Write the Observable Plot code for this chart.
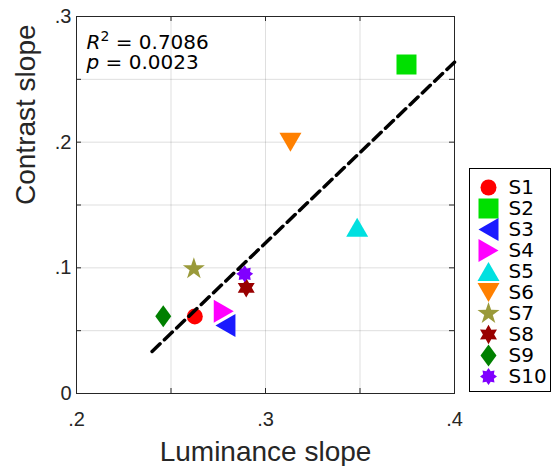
<!DOCTYPE html>
<html>
<head>
<meta charset="utf-8">
<script src="https://cdn.jsdelivr.net/npm/d3@7"></script>
<script src="https://cdn.jsdelivr.net/npm/@observablehq/plot@0.6"></script>
<style>
  html, body { margin: 0; padding: 0; background: #fff; }
  #wrap { position: relative; width: 551px; height: 466px; }
  #legend { position: absolute; left: 469px; top: 168px; width: 80px; height: 222px; border: 1px solid #000; background: #fff; }
  svg { display: block; }
</style>
</head>
<body>
<div id="wrap"><div id="main"></div><div id="legend"></div></div>
<script>
// ---------- data ----------
const subjects = ["S1", "S2", "S3", "S4", "S5", "S6", "S7", "S8", "S9", "S10"];
const luminanceSlope = [0.2626, 0.3746, 0.2788, 0.2779, 0.3485, 0.3132, 0.2621, 0.2898, 0.2459, 0.2890];
const contrastSlope  = [0.0613, 0.2618, 0.0541, 0.0655, 0.1323, 0.2000, 0.0992, 0.0841, 0.0615, 0.0952];
const markerShapes = ["circle", "square", "triangle-left", "triangle-right", "triangle-up", "triangle-down", "pentagram", "hexagram", "diamond", "asterisk"];
const markerColors = ["#ff0000", "#00e000", "#1a1aff", "#ff00ff", "#00e0e0", "#ff8000", "#9a9a3a", "#990000", "#008000", "#8000ff"];
const xTickLabels = [0.2, 0.3, 0.4];
const yTickLabels = [0, 0.1, 0.2, 0.3];
const xGridTicks = [0.2, 0.25, 0.3, 0.35, 0.4];
const yGridTicks = [0, 0.05, 0.1, 0.15, 0.2, 0.25, 0.3];
const fitRange = [0.24, 0.4];
const rSquared = "0.7086";
const pValue = "0.0023";
const xLabel = "Luminance slope";
const yLabel = "Contrast slope";

// ---------- marker shapes ----------
function scaleOf(size) { return Math.sqrt(size / Math.PI) / 10; }
function polygon(pts) {
  return { draw(ctx, size) { const s = scaleOf(size);
    pts.forEach(([x, y], i) => i ? ctx.lineTo(x * s, y * s) : ctx.moveTo(x * s, y * s)); ctx.closePath(); } };
}
function starPoly(n, ro, ri) {
  const pts = [];
  for (let i = 0; i < 2 * n; i++) {
    const a = -Math.PI / 2 + i * Math.PI / n, r = i % 2 ? ri : ro;
    pts.push([r * Math.cos(a), r * Math.sin(a)]);
  }
  return polygon(pts);
}
const symbols = {
  "circle": { draw(ctx, size) { const s = scaleOf(size); ctx.moveTo(8 * s, 0); ctx.arc(0, 0, 8 * s, 0, 2 * Math.PI); } },
  "square": polygon([[-10, -10], [10, -10], [10, 10], [-10, 10]]),
  "triangle-left": polygon([[-10, 0], [10, -11.5], [10, 11.5]]),
  "triangle-right": polygon([[10, 0], [-10, -11.5], [-10, 11.5]]),
  "triangle-up": polygon([[0, -9.5], [11, 9.5], [-11, 9.5]]),
  "triangle-down": polygon([[0, 9.5], [11, -9.5], [-11, -9.5]]),
  "pentagram": starPoly(5, 11.6, 4.5),
  "hexagram": starPoly(6, 9.8, 5.6),
  "diamond": polygon([[0, -11], [8, 0], [0, 11], [-8, 0]]),
  "asterisk": starPoly(8, 8.5, 5.8)
};

// ---------- regression ----------
const mx = d3.mean(luminanceSlope), my = d3.mean(contrastSlope);
const sxy = d3.sum(luminanceSlope, (x, i) => (x - mx) * (contrastSlope[i] - my));
const sxx = d3.sum(luminanceSlope, x => (x - mx) ** 2);
const slope = sxy / sxx, intercept = my - slope * mx;
const fitLine = fitRange.map(x => ({ x, y: intercept + slope * x }));

const points = subjects.map((s, i) => ({ s, x: luminanceSlope[i], y: contrastSlope[i], shape: markerShapes[i], color: markerColors[i] }));
const fmt = d => d === 0 ? "0" : String(d).replace(/^0/, "");
const ink = "#262626";

const plotH = 466 - 16 - 73, plotW = 551 - 76 - 97;
const statR = "R2 = " + rSquared, statP = "p = " + pValue;

const chart = Plot.plot({
  width: 551, height: 466,
  marginLeft: 76, marginRight: 97, marginTop: 16, marginBottom: 73,
  x: { domain: [0.2, 0.4] },
  y: { domain: [0, 0.3] },
  style: { fontFamily: "'Liberation Sans', Arial, sans-serif", color: ink, background: "white", overflow: "visible" },
  marks: [
    Plot.gridX(xGridTicks, { stroke: ink, strokeOpacity: 0.15, strokeWidth: 1 }),
    Plot.gridY(yGridTicks, { stroke: ink, strokeOpacity: 0.15, strokeWidth: 1 }),
    Plot.tickX(xGridTicks, { x: d => d, insetTop: plotH - 5, stroke: ink }),
    Plot.tickX(xGridTicks, { x: d => d, insetBottom: plotH - 5, stroke: ink }),
    Plot.tickY(yGridTicks, { y: d => d, insetRight: plotW - 5, stroke: ink }),
    Plot.tickY(yGridTicks, { y: d => d, insetLeft: plotW - 5, stroke: ink }),
    Plot.frame({ stroke: ink, strokeWidth: 1 }),
    Plot.axisX({ ticks: xTickLabels, tickSize: 0, tickPadding: 18, tickFormat: fmt, fontSize: 20, label: null }),
    Plot.axisY({ ticks: yTickLabels, tickSize: 0, tickPadding: 5, tickFormat: fmt, fontSize: 20, label: null }),
    Plot.text([xLabel], { text: d => d, frameAnchor: "bottom", lineAnchor: "bottom", dy: 67, fontSize: 28, fill: ink }),
    Plot.text([yLabel], { text: d => d, frameAnchor: "left", rotate: -90, lineAnchor: "bottom", dx: -41.5, fontSize: 28, fill: ink }),
    ...points.map(p => Plot.dot([p], { x: "x", y: "y", symbol: symbols[p.shape], fill: p.color, r: 10, stroke: "none" })),
    Plot.line(fitLine, { x: "x", y: "y", stroke: "black", strokeWidth: 3.5, strokeDasharray: "11,6" }),
    Plot.text([statR], { text: d => d, frameAnchor: "top-left", lineAnchor: "bottom", dx: 10, dy: 32, fontSize: 20, fontFamily: "DejaVu Sans", fill: "black", textAnchor: "start" }),
    Plot.text([statP], { text: d => d, frameAnchor: "top-left", lineAnchor: "bottom", dx: 10, dy: 52, fontSize: 20, fontFamily: "DejaVu Sans", fill: "black", textAnchor: "start" })
  ]
});
document.getElementById("main").appendChild(chart);

// rich text for the statistics
function rich(content, parts) {
  const t = Array.from(chart.querySelectorAll("text")).find(e => e.textContent === content);
  if (!t) return;
  t.textContent = "";
  const NS = "http://www.w3.org/2000/svg";
  for (const p of parts) {
    const ts = document.createElementNS(NS, "tspan");
    ts.textContent = p.text;
    if (p.italic) ts.setAttribute("font-style", "italic");
    if (p.size) ts.setAttribute("font-size", p.size);
    if (p.dy) ts.setAttribute("dy", p.dy);
    t.appendChild(ts);
  }
}
rich(statR, [{ text: "R", italic: true }, { text: "2", size: 14, dy: -8 }, { text: " = " + rSquared, dy: 8 }]);
rich(statP, [{ text: "p", italic: true }, { text: " = " + pValue }]);

// ---------- legend ----------
const legend = Plot.plot({
  width: 80, height: 222,
  marginLeft: 18, marginRight: 0, marginTop: 16, marginBottom: 13,
  y: { type: "point", domain: subjects, padding: 0, axis: null },
  x: { axis: null },
  style: { fontFamily: "'DejaVu Sans', sans-serif", background: "white", overflow: "visible" },
  marks: [
    ...points.map(p => Plot.dot([p], { y: "s", frameAnchor: "left", symbol: symbols[p.shape], fill: p.color, r: 10, stroke: "none" })),
    Plot.text(points, { y: "s", text: "s", frameAnchor: "left", dx: 20, textAnchor: "start", fontSize: 20, fill: "black" })
  ]
});
document.getElementById("legend").appendChild(legend);
</script>
</body>
</html>
